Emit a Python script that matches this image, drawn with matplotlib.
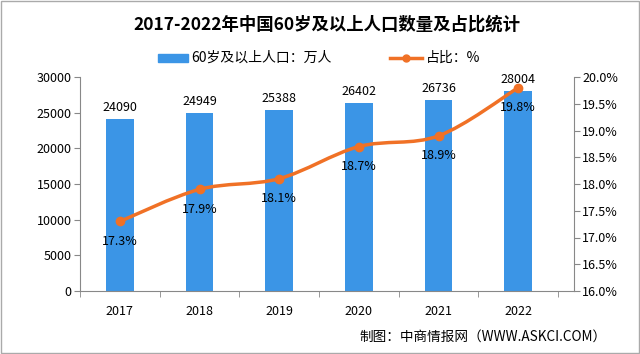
import matplotlib
matplotlib.use("Agg")
import matplotlib.pyplot as plt
from matplotlib.path import Path
from matplotlib.patches import PathPatch, Rectangle
from matplotlib.lines import Line2D

plt.rcParams['font.family'] = ['Noto Sans CJK SC', 'DejaVu Sans']

years = ['2017', '2018', '2019', '2020', '2021', '2022']
population = [24090, 24949, 25388, 26402, 26736, 28004]
share = [17.3, 17.9, 18.1, 18.7, 18.9, 19.8]
left_ticks = [0, 5000, 10000, 15000, 20000, 25000, 30000]
right_ticks = [16.0, 16.5, 17.0, 17.5, 18.0, 18.5, 19.0, 19.5, 20.0]

BLUE = '#3b95e6'
ORANGE = '#f07126'
AXC = '#888888'

fig = plt.figure(figsize=(6.4, 3.54), dpi=100)
W, H = 640, 354
ax = fig.add_axes([80 / W, 1 - 291 / H, (574 - 80) / W, (291 - 77) / H])
ax2 = ax.twinx()

x = list(range(len(years)))
ax.bar(x, population, width=0.35, color=BLUE, zorder=2)
ax.set_xlim(-0.5, 5.7)
ax.set_ylim(0, 30000)
ax.set_yticks(left_ticks)
ax.set_yticklabels([str(t) for t in left_ticks], fontsize=9)
ax.set_xticks(x)
ax.set_xticklabels(years, fontsize=9)
ax.set_xticks([i - 0.5 for i in range(len(years) + 1)], minor=True)
ax.tick_params(axis='x', which='major', length=0, pad=10)
ax.tick_params(axis='x', which='minor', length=4, color=AXC)
ax.tick_params(axis='y', length=4, color=AXC, pad=2)
for s in ['top', 'right']:
    ax.spines[s].set_visible(False)
ax.spines['left'].set_color(AXC)
ax.spines['bottom'].set_color(AXC)

for xi, v in zip(x, population):
    ax.text(xi, v + 700, str(v), ha='center', va='bottom', fontsize=9)

ax2.set_ylim(16, 20)
ax2.set_yticks(right_ticks)
ax2.set_yticklabels(['%.1f%%' % t for t in right_ticks], fontsize=9)
ax2.tick_params(axis='y', length=4, color=AXC, pad=2)
for s in ['top', 'left', 'bottom']:
    ax2.spines[s].set_visible(False)
ax2.spines['right'].set_color(AXC)

# smooth curve (Bezier, Catmull-Rom style) through the data points
t = 1 / 6
verts = [(x[0], share[0])]
codes = [Path.MOVETO]
n = len(x)
for i in range(n - 1):
    p0 = (x[max(i - 1, 0)], share[max(i - 1, 0)])
    p1 = (x[i], share[i])
    p2 = (x[i + 1], share[i + 1])
    p3 = (x[min(i + 2, n - 1)], share[min(i + 2, n - 1)])
    c1 = (p1[0] + (p2[0] - p0[0]) * t, p1[1] + (p2[1] - p0[1]) * t)
    c2 = (p2[0] - (p3[0] - p1[0]) * t, p2[1] - (p3[1] - p1[1]) * t)
    verts += [c1, c2, p2]
    codes += [Path.CURVE4] * 3
ax2.add_patch(PathPatch(Path(verts, codes), facecolor='none', edgecolor=ORANGE, lw=2.5, zorder=3))
ax2.plot(x, share, 'o', color=ORANGE, ms=6, zorder=4)
for xi, v in zip(x, share):
    ax2.text(xi, v - 0.25, '%.1f%%' % v, ha='center', va='top', fontsize=9)

fig.text(327 / W, 1 - 25 / H, '2017-2022年中国60岁及以上人口数量及占比统计', ha='center', va='center',
         fontsize=12.5, fontweight='bold')

# legend
LY = 1 - 58 / H
fig.patches.append(Rectangle((158 / W, 1 - 62 / H), 30 / W, 8 / H, transform=fig.transFigure,
                             color=BLUE))
fig.text(191 / W, LY, '60岁及以上人口：万人', ha='left', va='center', fontsize=10)
fig.lines.append(Line2D([390 / W, 422 / W], [LY, LY], transform=fig.transFigure,
                        color=ORANGE, lw=2.5))
fig.lines.append(Line2D([406 / W], [LY], transform=fig.transFigure, color=ORANGE,
                        marker='o', ms=5))
fig.text(426 / W, LY, '占比：%', ha='left', va='center', fontsize=10)

fig.text(607 / W, 1 - 337 / H, '制图：中商情报网（WWW.ASKCI.COM）', ha='right', va='center', fontsize=9.8)

fig.patches.append(Rectangle((1 / W, 1 / H), 638 / W, 352 / H, transform=fig.transFigure,
                             fill=False, edgecolor='#aaaaaa', lw=1))

fig.savefig('out.png', dpi=100)
